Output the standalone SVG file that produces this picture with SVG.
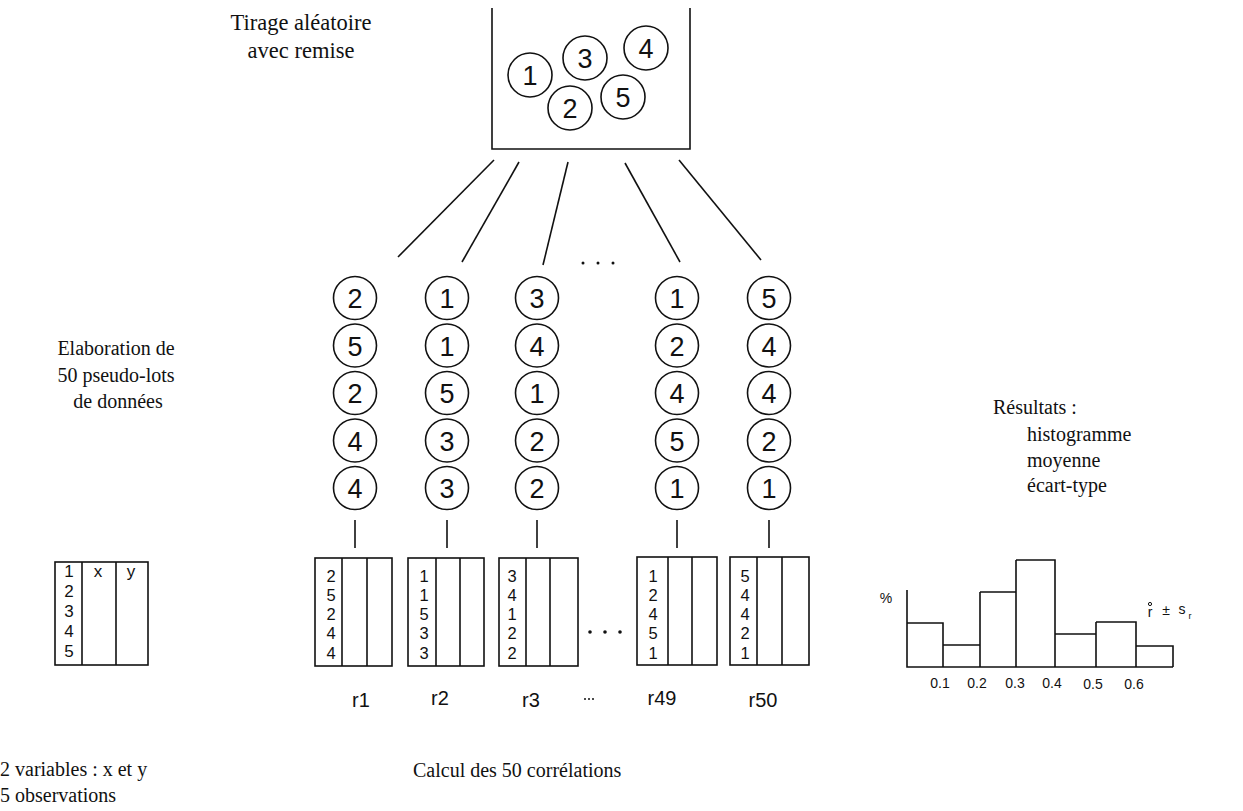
<svg xmlns="http://www.w3.org/2000/svg" width="1243" height="811" viewBox="0 0 1243 811">
<style>
.ln{stroke:#111;stroke-width:1.6;fill:none}
.c{stroke:#111;stroke-width:1.6;fill:#fff}
.cd{font-family:"Liberation Sans",Arial,sans-serif;font-size:27px;fill:#111;text-anchor:middle}
.td{font-family:"Liberation Sans",Arial,sans-serif;font-size:16.5px;fill:#111;text-anchor:middle}
.tdo{font-family:"Liberation Sans",Arial,sans-serif;font-size:17px;fill:#111;text-anchor:middle}
.lbl{font-family:"Liberation Sans",Arial,sans-serif;font-size:20px;fill:#111;text-anchor:middle}
.tk{font-family:"Liberation Sans",Arial,sans-serif;font-size:14px;fill:#111;text-anchor:middle}
.sf{font-family:"Liberation Serif","Times New Roman",serif;font-size:20px;fill:#111}
.sf2{font-family:"Liberation Serif","Times New Roman",serif;font-size:22.5px;fill:#111;text-anchor:middle}
.dot{fill:#111}
</style>
<rect width="1243" height="811" fill="#fff"/>

<g id="urn">
<path class="ln" d="M492,8 V149 H690 V8"/>
<circle class="c" cx="530" cy="75" r="22"/><text class="cd" x="530" y="85">1</text>
<circle class="c" cx="585" cy="58" r="22"/><text class="cd" x="585" y="68">3</text>
<circle class="c" cx="646" cy="48" r="22"/><text class="cd" x="646" y="58">4</text>
<circle class="c" cx="570" cy="108" r="22"/><text class="cd" x="570" y="118">2</text>
<circle class="c" cx="623" cy="97" r="22"/><text class="cd" x="623" y="107">5</text>
</g>

<g id="label-tirage">
<text class="sf2" x="301" y="30">Tirage aléatoire</text>
<text class="sf2" x="301" y="58">avec remise</text>
</g>

<g id="connectors">
<line class="ln" x1="494" y1="160" x2="398" y2="257"/>
<line class="ln" x1="519" y1="162" x2="462" y2="262"/>
<line class="ln" x1="568" y1="162" x2="543" y2="265"/>
<line class="ln" x1="625" y1="163" x2="680" y2="262"/>
<line class="ln" x1="679" y1="160" x2="761" y2="260"/>
<line class="ln" x1="355" y1="520" x2="355" y2="548"/>
<line class="ln" x1="447" y1="520" x2="447" y2="548"/>
<line class="ln" x1="537" y1="520" x2="537" y2="548"/>
<line class="ln" x1="677" y1="520" x2="677" y2="548"/>
<line class="ln" x1="769" y1="520" x2="769" y2="548"/>
</g>

<g id="dots-top"><circle class="dot" cx="583" cy="263" r="1.5"/><circle class="dot" cx="598" cy="263" r="1.5"/><circle class="dot" cx="613" cy="263" r="1.5"/></g>

<g id="col1">
<circle class="c" cx="355" cy="298" r="21.5"/><text class="cd" x="355" y="308">2</text>
<circle class="c" cx="355" cy="345.5" r="21.5"/><text class="cd" x="355" y="355.5">5</text>
<circle class="c" cx="355" cy="393" r="21.5"/><text class="cd" x="355" y="403">2</text>
<circle class="c" cx="355" cy="440.5" r="21.5"/><text class="cd" x="355" y="450.5">4</text>
<circle class="c" cx="355" cy="488" r="21.5"/><text class="cd" x="355" y="498">4</text>
</g>
<g id="col2">
<circle class="c" cx="447" cy="298" r="21.5"/><text class="cd" x="447" y="308">1</text>
<circle class="c" cx="447" cy="345.5" r="21.5"/><text class="cd" x="447" y="355.5">1</text>
<circle class="c" cx="447" cy="393" r="21.5"/><text class="cd" x="447" y="403">5</text>
<circle class="c" cx="447" cy="440.5" r="21.5"/><text class="cd" x="447" y="450.5">3</text>
<circle class="c" cx="447" cy="488" r="21.5"/><text class="cd" x="447" y="498">3</text>
</g>
<g id="col3">
<circle class="c" cx="537" cy="298" r="21.5"/><text class="cd" x="537" y="308">3</text>
<circle class="c" cx="537" cy="345.5" r="21.5"/><text class="cd" x="537" y="355.5">4</text>
<circle class="c" cx="537" cy="393" r="21.5"/><text class="cd" x="537" y="403">1</text>
<circle class="c" cx="537" cy="440.5" r="21.5"/><text class="cd" x="537" y="450.5">2</text>
<circle class="c" cx="537" cy="488" r="21.5"/><text class="cd" x="537" y="498">2</text>
</g>
<g id="col49">
<circle class="c" cx="677" cy="298" r="21.5"/><text class="cd" x="677" y="308">1</text>
<circle class="c" cx="677" cy="345.5" r="21.5"/><text class="cd" x="677" y="355.5">2</text>
<circle class="c" cx="677" cy="393" r="21.5"/><text class="cd" x="677" y="403">4</text>
<circle class="c" cx="677" cy="440.5" r="21.5"/><text class="cd" x="677" y="450.5">5</text>
<circle class="c" cx="677" cy="488" r="21.5"/><text class="cd" x="677" y="498">1</text>
</g>
<g id="col50">
<circle class="c" cx="769" cy="298" r="21.5"/><text class="cd" x="769" y="308">5</text>
<circle class="c" cx="769" cy="345.5" r="21.5"/><text class="cd" x="769" y="355.5">4</text>
<circle class="c" cx="769" cy="393" r="21.5"/><text class="cd" x="769" y="403">4</text>
<circle class="c" cx="769" cy="440.5" r="21.5"/><text class="cd" x="769" y="450.5">2</text>
<circle class="c" cx="769" cy="488" r="21.5"/><text class="cd" x="769" y="498">1</text>
</g>

<g id="label-elaboration">
<text class="sf" x="116" y="355" text-anchor="middle">Elaboration de</text>
<text class="sf" x="116" y="382" text-anchor="middle">50 pseudo-lots</text>
<text class="sf" x="118" y="408" text-anchor="middle">de données</text>
</g>

<g id="table-orig">
<rect class="ln" x="55" y="562" width="93" height="103"/>
<line class="ln" x1="82" y1="562" x2="82" y2="665"/>
<line class="ln" x1="116" y1="562" x2="116" y2="665"/>
<text class="tdo" x="69" y="577">1</text><text class="tdo" x="69" y="597">2</text><text class="tdo" x="69" y="617">3</text><text class="tdo" x="69" y="637">4</text><text class="tdo" x="69" y="657">5</text>
<text class="tdo" x="98" y="577">x</text><text class="tdo" x="131" y="577">y</text>
</g>

<g id="table1">
<rect class="ln" x="315" y="558" width="77" height="108"/>
<line class="ln" x1="342" y1="558" x2="342" y2="666"/><line class="ln" x1="367" y1="558" x2="367" y2="666"/>
<text class="td" x="331" y="582">2</text><text class="td" x="331" y="601">5</text><text class="td" x="331" y="620">2</text><text class="td" x="331" y="639">4</text><text class="td" x="331" y="659">4</text>
</g>
<g id="table2">
<rect class="ln" x="408" y="558" width="76" height="108"/>
<line class="ln" x1="436" y1="558" x2="436" y2="666"/><line class="ln" x1="460" y1="558" x2="460" y2="666"/>
<text class="td" x="424" y="582">1</text><text class="td" x="424" y="601">1</text><text class="td" x="424" y="620">5</text><text class="td" x="424" y="639">3</text><text class="td" x="424" y="659">3</text>
</g>
<g id="table3">
<rect class="ln" x="499" y="558" width="79" height="108"/>
<line class="ln" x1="526" y1="558" x2="526" y2="666"/><line class="ln" x1="550" y1="558" x2="550" y2="666"/>
<text class="td" x="512" y="582">3</text><text class="td" x="512" y="601">4</text><text class="td" x="512" y="620">1</text><text class="td" x="512" y="639">2</text><text class="td" x="512" y="659">2</text>
</g>
<g id="dots-mid"><circle class="dot" cx="590" cy="632" r="1.8"/><circle class="dot" cx="605" cy="632" r="1.8"/><circle class="dot" cx="620" cy="632" r="1.8"/></g>
<g id="table49">
<rect class="ln" x="637" y="557" width="80" height="108"/>
<line class="ln" x1="668" y1="557" x2="668" y2="665"/><line class="ln" x1="692" y1="557" x2="692" y2="665"/>
<text class="td" x="653" y="582">1</text><text class="td" x="653" y="601">2</text><text class="td" x="653" y="620">4</text><text class="td" x="653" y="639">5</text><text class="td" x="653" y="659">1</text>
</g>
<g id="table50">
<rect class="ln" x="730" y="557" width="79" height="108"/>
<line class="ln" x1="757" y1="557" x2="757" y2="665"/><line class="ln" x1="782" y1="557" x2="782" y2="665"/>
<text class="td" x="745" y="582">5</text><text class="td" x="745" y="601">4</text><text class="td" x="745" y="620">4</text><text class="td" x="745" y="639">2</text><text class="td" x="745" y="659">1</text>
</g>

<g id="r-labels">
<text class="lbl" x="361" y="707">r1</text>
<text class="lbl" x="440" y="705">r2</text>
<text class="lbl" x="531" y="707">r3</text>
<circle class="dot" cx="585" cy="699" r="1"/><circle class="dot" cx="589" cy="699" r="1"/><circle class="dot" cx="593" cy="699" r="1"/>
<text class="lbl" x="662" y="705">r49</text>
<text class="lbl" x="763" y="707">r50</text>
</g>

<g id="label-resultats">
<text class="sf" x="993" y="414">Résultats :</text>
<text class="sf" x="1027" y="441">histogramme</text>
<text class="sf" x="1027" y="467">moyenne</text>
<text class="sf" x="1027" y="492">écart-type</text>
</g>

<g id="histogram">
<path class="ln" d="M907,590 V667 H1173"/>
<path class="ln" d="M907,623 H943 V667 M943,645 H980 V667 M980,592 H1016 V667 M1016,560 H1055 V667 M1055,634 H1096 V667 M1096,622 H1136 V667 M1136,646 H1173 V667 M943,623 V645 M980,645 V592 M1016,592 V560 M1055,560 V634 M1096,634 V622 M1136,622 V646"/>
<text class="tk" x="886" y="603">%</text>
<text class="tk" x="940" y="688">0.1</text>
<text class="tk" x="977" y="688">0.2</text>
<text class="tk" x="1015" y="688">0.3</text>
<text class="tk" x="1052" y="688">0.4</text>
<text class="tk" x="1093" y="689">0.5</text>
<text class="tk" x="1134" y="689">0.6</text>
</g>

<g id="formula">
<text class="tk" x="1150" y="617">r</text>
<circle class="ln" cx="1150" cy="604" r="1.6" style="stroke-width:1"/>
<text class="tk" x="1166" y="615">±</text>
<text class="tk" x="1182" y="614">s</text>
<text class="tk" x="1190" y="619" style="font-size:9px">r</text>
</g>

<g id="label-bottom-left">
<text class="sf" x="0" y="776">2 variables : x et y</text>
<text class="sf" x="0" y="802">5 observations</text>
</g>
<g id="label-calcul">
<text class="sf" x="413" y="777">Calcul des 50 corrélations</text>
</g>
</svg>
